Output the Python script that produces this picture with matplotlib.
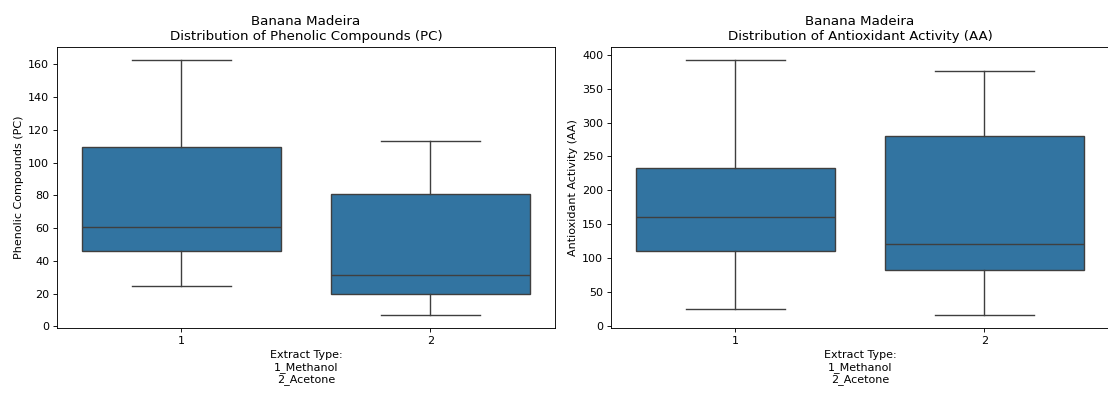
import matplotlib
matplotlib.use("Agg")
import matplotlib.pyplot as plt

# Values (whisker low, Q1, median, Q3, whisker high)
extract_labels = ["1", "2"]

pc_low = [24.8, 6.9]
pc_q1 = [46.0, 19.9]
pc_med = [61.0, 31.7]
pc_q3 = [109.4, 81.1]
pc_high = [162.8, 113.0]

aa_low = [25.1, 15.8]
aa_q1 = [110.2, 83.0]
aa_med = [160.3, 121.0]
aa_q3 = [233.0, 280.0]
aa_high = [392.7, 376.0]

box_color = "#3274a1"
line_color = "#3f3f3f"


def make_stats(low, q1, med, q3, high):
    stats = []
    for i in range(len(low)):
        stats.append(dict(whislo=low[i], q1=q1[i], med=med[i], q3=q3[i],
                          whishi=high[i], fliers=[]))
    return stats


def draw_box(ax, stats, title, ylabel):
    ax.bxp(stats, positions=range(len(stats)), widths=0.8, patch_artist=True,
           showfliers=False,
           boxprops=dict(facecolor=box_color, edgecolor=line_color, linewidth=1.25),
           medianprops=dict(color=line_color, linewidth=1.25),
           whiskerprops=dict(color=line_color, linewidth=1.25),
           capprops=dict(color=line_color, linewidth=1.25),
           capwidths=0.4)
    ax.set_xlim(-0.5, len(stats) - 0.5)
    ax.set_xticks(range(len(stats)))
    ax.set_xticklabels(extract_labels)
    ax.set_title(title)
    ax.set_ylabel(ylabel)
    ax.set_xlabel("Extract Type:\n1_Methanol\n2_Acetone")


# drawn at 80 dpi so that text and lines come out at the reference's scale
fig = plt.figure(figsize=(13.85, 4.975), dpi=80)
ax1 = fig.add_axes([0.0514, 0.176, 0.4495, 0.706])
ax2 = fig.add_axes([0.5514, 0.176, 0.4495, 0.706])

draw_box(ax1, make_stats(pc_low, pc_q1, pc_med, pc_q3, pc_high),
         "Banana Madeira\nDistribution of Phenolic Compounds (PC)",
         "Phenolic Compounds (PC)")
draw_box(ax2, make_stats(aa_low, aa_q1, aa_med, aa_q3, aa_high),
         "Banana Madeira\nDistribution of Antioxidant Activity (AA)",
         "Antioxidant Activity (AA)")

fig.savefig("out.png", dpi=80)
